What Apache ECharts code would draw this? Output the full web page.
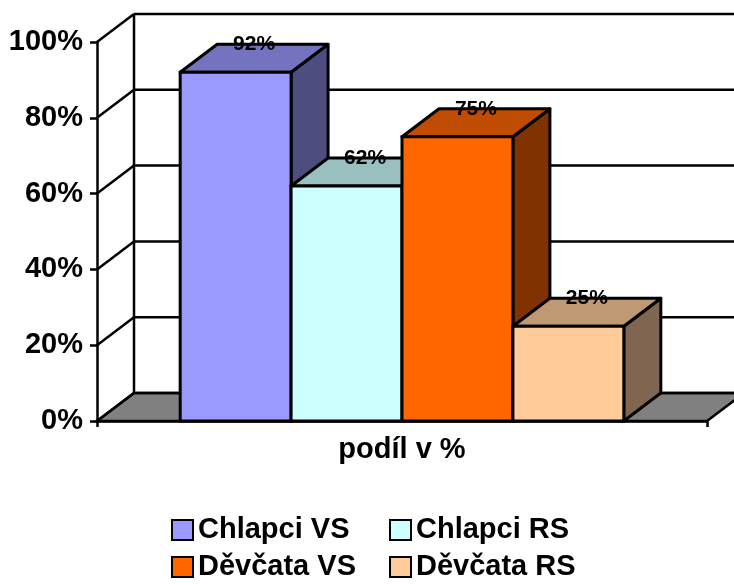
<!DOCTYPE html>
<html>
<head>
<meta charset="utf-8">
<script src="https://cdn.jsdelivr.net/npm/echarts@6/dist/echarts.min.js"></script>
<style>
  html, body { margin: 0; padding: 0; background: #fff; }
  #chart { width: 734px; height: 585px; }
</style>
</head>
<body>
<div id="chart"></div>
<script>
// Data
const categories = ['podíl v %'];
const seriesNames = ['Chlapci VS', 'Chlapci RS', 'Děvčata VS', 'Děvčata RS'];
const seriesValues = [92, 62, 75, 25];
const yTicks = [0, 20, 40, 60, 80, 100];

// Face colours: front, top (shaded), side (darker)
const frontColors = ['#9999FF', '#CCFFFF', '#FF6600', '#FFCC99'];
const topColors = ['#7373BF', '#99BFBF', '#BF4C00', '#BF9973'];
const sideColors = ['#4D4D80', '#668080', '#803300', '#806650'];

// Depth offset of the 3D box (pixels) and gap between bar groups (relative to bar width)
const DX = 37, DY = -28;
const GAP = 1.5;
const FONT = "'Liberation Sans', Arial, sans-serif";
const WALL_EDGE = { stroke: '#000', lineWidth: 2.5 };
const BOX_EDGE = 3;

const chart = echarts.init(document.getElementById('chart'), null, { renderer: 'canvas' });

// Side wall, back wall grid lines and floor, one item per tick value
function renderWalls(params, api) {
  const cs = params.coordSys;
  const v = api.value(1);
  const y = api.coord([0, v])[1];
  const x0 = cs.x, x1 = cs.x + cs.width;
  const children = [];
  if (v === yTicks[0]) {
    children.push({
      type: 'polygon',
      shape: { points: [[x0, y], [x1, y], [x1 + DX, y + DY], [x0 + DX, y + DY]] },
      style: { fill: '#808080', stroke: '#000', lineWidth: 2.5 }
    });
  }
  if (v === yTicks[yTicks.length - 1]) {
    const yb = api.coord([0, yTicks[0]])[1];
    children.push({
      type: 'line',
      shape: { x1: x0 + DX, y1: y + DY, x2: x0 + DX, y2: yb + DY },
      style: WALL_EDGE
    });
  }
  children.push({ type: 'line', shape: { x1: x0, y1: y, x2: x0 + DX, y2: y + DY }, style: WALL_EDGE });
  children.push({ type: 'line', shape: { x1: x0 + DX, y1: y + DY, x2: x1 + DX, y2: y + DY }, style: WALL_EDGE });
  return { type: 'group', children };
}

// One 3D box per series, placed side by side within the category band
function barRenderer(idx) {
  return function (params, api) {
    const cat = api.value(0), val = api.value(1);
    const base = api.coord([cat, 0]);
    const top = api.coord([cat, val]);
    const band = api.size([1, 0])[0];
    const w = band / (seriesNames.length + GAP);
    const xl = base[0] - band / 2 + w * GAP / 2 + idx * w;
    const xr = xl + w;
    const yt = top[1], yb = base[1];
    return {
      type: 'group',
      children: [
        {
          type: 'polygon',
          shape: { points: [[xr, yt], [xr + DX, yt + DY], [xr + DX, yb + DY], [xr, yb]] },
          style: { fill: sideColors[idx], stroke: '#000', lineWidth: BOX_EDGE, lineJoin: 'round' }
        },
        {
          type: 'polygon',
          shape: { points: [[xl, yt], [xr, yt], [xr + DX, yt + DY], [xl + DX, yt + DY]] },
          style: { fill: topColors[idx], stroke: '#000', lineWidth: BOX_EDGE, lineJoin: 'round' }
        },
        {
          type: 'rect',
          shape: { x: xl, y: yt, width: w, height: yb - yt },
          style: { fill: frontColors[idx], stroke: '#000', lineWidth: BOX_EDGE }
        },
        {
          type: 'text',
          z2: 100,
          style: {
            text: val + '%',
            x: (xl + xr) / 2 + DX / 2,
            y: yt + DY,
            align: 'center',
            verticalAlign: 'middle',
            font: 'bold 21px ' + FONT,
            fill: '#000'
          }
        }
      ]
    };
  };
}

const legendLeft = [166, 384, 166, 384];
const legendTop = [510, 510, 547, 547];

const option = {
  animation: false,
  backgroundColor: '#fff',
  grid: { left: 97, right: 27, top: 42, bottom: 164 },
  xAxis: {
    type: 'category',
    data: categories,
    axisLine: { lineStyle: { color: '#000', width: 2.5 } },
    axisTick: { show: true, length: 6, lineStyle: { color: '#000', width: 2.5 } },
    axisLabel: { margin: 14, color: '#000', fontFamily: FONT, fontWeight: 'bold', fontSize: 29 },
    splitLine: { show: false }
  },
  yAxis: {
    type: 'value',
    min: 0,
    max: 100,
    interval: 20,
    axisLine: { show: true, lineStyle: { color: '#000', width: 2.5 } },
    axisTick: { show: true, length: 7, lineStyle: { color: '#000', width: 2.5 } },
    axisLabel: { margin: 14, formatter: '{value}%', color: '#000', fontFamily: FONT, fontWeight: 'bold', fontSize: 29 },
    splitLine: { show: false }
  },
  legend: seriesNames.map((name, i) => ({
    data: [name],
    left: legendLeft[i],
    top: legendTop[i],
    icon: 'rect',
    itemWidth: 21,
    itemHeight: 20,
    selectedMode: false,
    itemStyle: { borderColor: '#000', borderWidth: 2 },
    textStyle: { color: '#000', fontFamily: FONT, fontWeight: 'bold', fontSize: 29, lineHeight: 30 }
  })),
  series: [
    {
      type: 'custom',
      name: 'walls',
      silent: true,
      z: 1,
      renderItem: renderWalls,
      data: yTicks.map(v => [0, v])
    }
  ].concat(seriesNames.map((name, i) => ({
    type: 'custom',
    name: name,
    z: 2,
    itemStyle: { color: frontColors[i] },
    renderItem: barRenderer(i),
    data: [[0, seriesValues[i]]]
  })))
};

chart.setOption(option);
</script>
</body>
</html>
